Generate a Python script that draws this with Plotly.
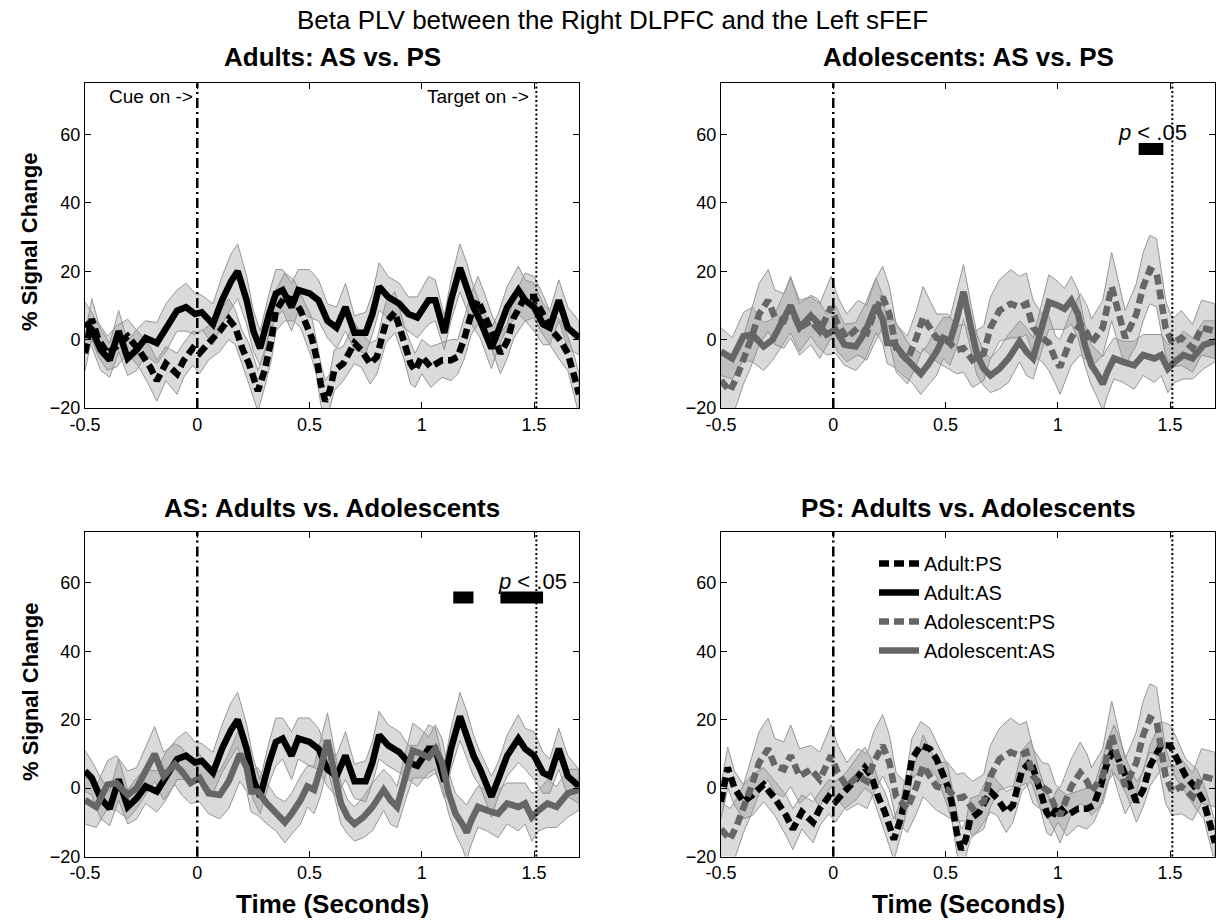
import plotly.graph_objects as go

# ---------------- data: group means (% signal change) and SEM ----------------
adult_as_t = [-0.50, -0.47, -0.43, -0.39, -0.35, -0.31, -0.27, -0.23, -0.18, -0.14,
              -0.09, -0.05, -0.01, 0.02, 0.07, 0.11, 0.15, 0.18, 0.22, 0.25,
              0.28, 0.32, 0.35, 0.38, 0.42, 0.45, 0.50, 0.54, 0.58, 0.62,
              0.66, 0.70, 0.75, 0.78, 0.81, 0.85, 0.90, 0.94, 0.98, 1.03,
              1.06, 1.10, 1.13, 1.17, 1.20, 1.23, 1.26, 1.31, 1.34, 1.38,
              1.43, 1.46, 1.50, 1.54, 1.57, 1.61, 1.65, 1.70]
adult_as_v = [5, 3, -3, -6, 2.5, -5.5, -3, 0.5, -1, 3.5,
              8.5, 9.5, 7.5, 8, 4.5, 11.5, 17, 20, 11.5, 2.5,
              -2.5, 7.5, 13.5, 14.5, 9.5, 14.5, 13.5, 11.5, 5.5, 3.5,
              9.5, 2, 2, 7.5, 15.5, 12.5, 10.5, 7.5, 6.5, 11.5,
              11.5, 2, 11.5, 21, 15.5, 9.5, 5.5, -2.5, 2.5, 9.5,
              14.5, 11.5, 9.5, 4.5, 3.5, 11.5, 3.5, 0.5]
adult_as_err = [6, 5, 6, 5, 6, 5, 6, 5, 6, 7,
                6, 7, 6, 5, 6, 7, 8, 8, 7, 6,
                5, 6, 7, 6, 7, 6, 7, 6, 5, 6,
                7, 5, 6, 6, 7, 6, 6, 5, 6, 7,
                6, 5, 6, 7, 7, 6, 5, 6, 5, 6,
                7, 6, 7, 6, 5, 6, 6, 5]

adult_ps_t = [-0.50, -0.47, -0.44, -0.40, -0.36, -0.31, -0.26, -0.21, -0.18, -0.14,
              -0.09, -0.06, -0.02, 0.01, 0.05, 0.10, 0.14, 0.17, 0.20, 0.23,
              0.27, 0.30, 0.33, 0.35, 0.39, 0.43, 0.46, 0.51, 0.53, 0.55,
              0.57, 0.59, 0.61, 0.65, 0.70, 0.73, 0.77, 0.80, 0.84, 0.88,
              0.92, 0.95, 0.97, 1.00, 1.04, 1.09, 1.13, 1.16, 1.19, 1.22,
              1.25, 1.28, 1.31, 1.35, 1.38, 1.41, 1.46, 1.50, 1.53, 1.57,
              1.62, 1.65, 1.68, 1.70]
adult_ps_v = [-4, 6, 0, -4, -2, 1, -3, -8, -12, -7,
              -10, -6, -2.5, -4, -1, 2.5, 6, 3.5, -2.5, -7,
              -15, -9, 0, 8.5, 12.5, 11.5, 8.5, 0.5, -5, -13,
              -18, -15, -9, -7, -1, -3, -7, -5, 5, 8,
              -0.5, -7, -9, -5, -8, -6, -6, -5, 0.5, 7.5,
              11.5, 7.5, 2.5, -4, -0.5, 6.5, 12.5, 12.5, 8.5, 3.5,
              -0.5, -4, -11, -16]
adult_ps_err = [5, 6, 5, 5, 6, 5, 5, 6, 6, 5,
                6, 5, 5, 6, 5, 6, 6, 5, 5, 6,
                6, 5, 6, 6, 7, 6, 5, 6, 5, 6,
                6, 5, 6, 5, 6, 5, 6, 5, 6, 6,
                5, 6, 5, 5, 6, 5, 6, 5, 6, 6,
                7, 6, 5, 6, 5, 6, 7, 6, 6, 5,
                6, 5, 6, 6]

adol_as_t = [-0.50, -0.45, -0.40, -0.36, -0.31, -0.27, -0.23, -0.19, -0.15, -0.10,
             -0.07, -0.03, 0.01, 0.05, 0.10, 0.14, 0.19, 0.22, 0.24, 0.27,
             0.31, 0.35, 0.39, 0.42, 0.46, 0.49, 0.52, 0.55, 0.58, 0.61,
             0.64, 0.67, 0.70, 0.74, 0.78, 0.83, 0.86, 0.89, 0.93, 0.96,
             1.00, 1.03, 1.06, 1.09, 1.12, 1.15, 1.18, 1.20, 1.22, 1.25,
             1.29, 1.34, 1.38, 1.43, 1.46, 1.49, 1.52, 1.56, 1.60, 1.65,
             1.70]
adol_as_v = [-3.5, -5.5, 1, 1.5, -2, 0, 5, 10, 3.5, 7,
             5, 1.5, 3, -1.5, -2, 2, 10, 6, -1, -1,
             -4.5, -7.5, -10, -7.5, -3.5, 0.5, -0.5, 6, 14, 4.5,
             -4.5, -8.5, -10.5, -8.5, -5.5, -0.5, -3.5, -5.5, 4, 11,
             10, 9, 11.5, 7.5, -1.5, -7.5, -10.5, -13, -9.5, -5.5,
             -6.5, -7.5, -4.5, -5.5, -4.5, -8.5, -6.5, -4.5, -5.5, -1.5,
             -0.5]
adol_as_err = [7, 6, 7, 8, 7, 6, 7, 8, 7, 6,
               7, 6, 7, 6, 7, 8, 8, 7, 6, 7,
               6, 5, 6, 6, 7, 6, 7, 8, 8, 7,
               6, 5, 5, 6, 7, 6, 7, 6, 7, 8,
               7, 6, 7, 7, 6, 6, 7, 8, 7, 6,
               6, 7, 6, 7, 6, 7, 6, 7, 6, 7,
               6]

adol_ps_t = [-0.50, -0.46, -0.43, -0.40, -0.37, -0.33, -0.29, -0.26, -0.22, -0.19,
             -0.15, -0.10, -0.06, -0.01, 0.02, 0.06, 0.11, 0.15, 0.18, 0.22,
             0.25, 0.28, 0.33, 0.37, 0.40, 0.43, 0.46, 0.51, 0.55, 0.58,
             0.62, 0.67, 0.70, 0.74, 0.79, 0.83, 0.86, 0.89, 0.93, 0.96,
             0.99, 1.01, 1.06, 1.10, 1.13, 1.15, 1.20, 1.24, 1.27, 1.30,
             1.35, 1.38, 1.41, 1.44, 1.46, 1.48, 1.51, 1.55, 1.60, 1.64,
             1.70]
adol_ps_v = [-12, -15, -11, -6, -0.5, 7.5, 11.5, 6.5, 5.5, 9.5,
             3.5, 5.5, 2.5, 9.5, 4.5, 0.5, 3.5, 2, 7.5, 12.5,
             7.5, -2.5, -6, 0.5, 6.5, 3.5, 0.5, -0.5, -3, -2.5,
             -6, -4, 3.5, 8.5, 10.5, 9.5, 10.5, 3.5, 0.5, -1,
             -6, -8, 0.5, 4.5, 2, -1, 3.5, 15.5, 7.5, 0.5,
             7.5, 15.5, 20.5, 19.5, 11.5, 3.5, -1, 0.5, -2.5, 3.5,
             2.5]
adol_ps_err = [8, 9, 8, 7, 8, 9, 9, 8, 8, 9,
               8, 7, 8, 9, 8, 7, 8, 8, 9, 9,
               8, 7, 7, 8, 9, 8, 7, 8, 7, 7,
               8, 8, 9, 9, 10, 9, 9, 8, 7, 8,
               7, 8, 8, 9, 8, 7, 8, 10, 9, 8,
               9, 10, 10, 10, 9, 8, 7, 8, 7, 8,
               8]

# event markers (seconds)
cue_time = 0.0
target_time = 1.51

# significant windows (p < .05) per panel, in seconds
sig_windows_adol = [(1.36, 1.47)]
sig_windows_as = [(1.14, 1.23), (1.35, 1.54)]
sig_bar_lo, sig_bar_hi = 54, 57.5

x_ticks = [-0.5, 0, 0.5, 1, 1.5]
x_ticktext = ["-0.5", "0", "0.5", "1", "1.5"]
y_ticks = [-20, 0, 20, 40, 60]
x_range = [-0.5, 1.7]
y_range = [-20, 75]

panel_titles = ["Adults: AS vs. PS", "Adolescents: AS vs. PS",
                "AS: Adults vs. Adolescents", "PS: Adults vs. Adolescents"]

# ---------------- styling ----------------
FONT = "Liberation Sans, Arial, sans-serif"
BLACK = "#000000"
GRAY = "#666666"
BAND_FILL = "rgba(140,140,140,0.32)"
BAND_EDGE = "rgb(150,150,150)"
DASH = "10px,5px"
LW = 6.5

series = {
    "Adult:PS": dict(t=adult_ps_t, v=adult_ps_v, e=adult_ps_err, color=BLACK, dash=DASH, rank=1),
    "Adult:AS": dict(t=adult_as_t, v=adult_as_v, e=adult_as_err, color=BLACK, dash="solid", rank=2),
    "Adolescent:PS": dict(t=adol_ps_t, v=adol_ps_v, e=adol_ps_err, color=GRAY, dash=DASH, rank=3),
    "Adolescent:AS": dict(t=adol_as_t, v=adol_as_v, e=adol_as_err, color=GRAY, dash="solid", rank=4),
}

panel_series = [["Adult:PS", "Adult:AS"],
                ["Adolescent:PS", "Adolescent:AS"],
                ["Adult:AS", "Adolescent:AS"],
                ["Adult:PS", "Adolescent:PS"]]
panel_sig = [[], sig_windows_adol, sig_windows_as, []]

W, H = 1224, 923
x_dom = [[85 / W, 579 / W], [721 / W, 1215 / W]]
y_dom = [[1 - 408 / H, 1 - 83.3 / H], [1 - 856.5 / H, 1 - 531.7 / H]]

fig = go.Figure()
shown = set()

for p in range(4):
    sfx = "" if p == 0 else str(p + 1)
    xa, ya = "x" + sfx, "y" + sfx
    names = panel_series[p]
    # error bands first
    for nm in names:
        s = series[nm]
        upper = [v + e for v, e in zip(s["v"], s["e"])]
        lower = [v - e for v, e in zip(s["v"], s["e"])]
        fig.add_trace(go.Scatter(
            x=s["t"] + s["t"][::-1], y=upper + lower[::-1],
            fill="toself", fillcolor=BAND_FILL,
            line=dict(color=BAND_EDGE, width=1),
            mode="lines", hoverinfo="skip", showlegend=False,
            xaxis=xa, yaxis=ya))
    # mean traces
    for nm in names:
        s = series[nm]
        fig.add_trace(go.Scatter(
            x=s["t"], y=s["v"], mode="lines", name=nm,
            line=dict(color=s["color"], width=LW, dash=s["dash"]),
            showlegend=nm not in shown, legendrank=s["rank"],
            xaxis=xa, yaxis=ya))
        shown.add(nm)
    # event lines
    fig.add_shape(type="line", x0=cue_time, x1=cue_time, y0=0, y1=1,
                  xref=xa, yref=ya + " domain",
                  line=dict(color=BLACK, width=2.5, dash="10px,4px,2px,4px"))
    fig.add_shape(type="line", x0=target_time, x1=target_time, y0=0, y1=1,
                  xref=xa, yref=ya + " domain",
                  line=dict(color=BLACK, width=2, dash="2px,2.5px"))
    # significance bars
    for (a, b) in panel_sig[p]:
        fig.add_shape(type="rect", x0=a, x1=b, y0=sig_bar_lo, y1=sig_bar_hi,
                      xref=xa, yref=ya, fillcolor=BLACK, line=dict(width=0))

    axis_common = dict(showline=True, linecolor=BLACK, linewidth=1, mirror="ticks",
                       ticks="inside", ticklen=6, tickcolor=BLACK, showgrid=False,
                       zeroline=False, automargin=False,
                       tickfont=dict(family=FONT, size=18, color=BLACK))
    col, row = p % 2, p // 2
    fig.layout["xaxis" + sfx] = dict(domain=x_dom[col], anchor=ya, range=x_range,
                                     tickvals=x_ticks, ticktext=x_ticktext, **axis_common)
    fig.layout["yaxis" + sfx] = dict(domain=y_dom[row], anchor=xa, range=y_range,
                                     tickvals=y_ticks, **axis_common)


def paper_text(text, x_px, y_px, size, angle=0):
    return dict(text=text, x=x_px / W, y=1 - y_px / H, xref="paper", yref="paper",
                xanchor="center", yanchor="middle", textangle=angle, showarrow=False,
                font=dict(family=FONT, size=size, color=BLACK))


annotations = []
# main title
annotations.append(paper_text("Beta PLV between the Right DLPFC and the Left sFEF", 612, 20, 26))
# panel titles
title_pos = [(332, 57), (968, 57), (332, 508), (968, 508)]
for txt, (tx, ty) in zip(panel_titles, title_pos):
    annotations.append(paper_text("<b>" + txt + "</b>", tx, ty, 26))
# axis titles
for ty in (242, 692):
    annotations.append(paper_text("<b>% Signal Change</b>", 30, ty, 22, angle=-90))
for tx in (332, 968):
    annotations.append(paper_text("<b>Time (Seconds)</b>", tx, 904, 26))
# event labels
annotations.append(dict(text="Cue on ->", x=cue_time, y=71, xref="x", yref="y",
                        xanchor="right", yanchor="middle", xshift=-2, showarrow=False,
                        font=dict(family=FONT, size=19, color=BLACK)))
annotations.append(dict(text="Target on ->", x=target_time, y=71, xref="x", yref="y",
                        xanchor="right", yanchor="middle", xshift=-5, showarrow=False,
                        font=dict(family=FONT, size=19, color=BLACK)))
# significance labels
annotations.append(dict(text="<i>p</i> &lt; .05", x=1.42, y=60.5, xref="x2", yref="y2",
                        xanchor="center", yanchor="middle", showarrow=False,
                        font=dict(family=FONT, size=22, color=BLACK)))
annotations.append(dict(text="<i>p</i> &lt; .05", x=1.495, y=60.5, xref="x3", yref="y3",
                        xanchor="center", yanchor="middle", showarrow=False,
                        font=dict(family=FONT, size=22, color=BLACK)))

fig.update_layout(
    width=W, height=H, margin=dict(l=0, r=0, t=0, b=0),
    paper_bgcolor="white", plot_bgcolor="white",
    annotations=annotations,
    showlegend=True,
    legend=dict(x=874 / W, y=1 - 544 / H, xanchor="left", yanchor="top",
                bgcolor="rgba(0,0,0,0)", borderwidth=0,
                font=dict(family=FONT, size=20, color=BLACK),
                tracegroupgap=0, itemwidth=40),
    font=dict(family=FONT, color=BLACK),
)

fig.write_html("out.html")
